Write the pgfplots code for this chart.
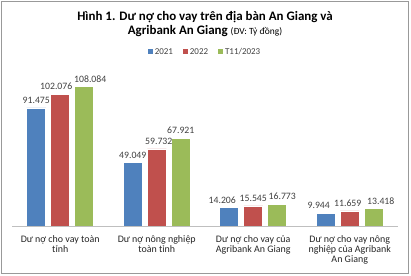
\documentclass[border=0pt]{standalone}
\usepackage{pgfplots}
\usepackage{pgfplotstable}
\pgfplotsset{compat=1.18}
\usepackage{fontspec}
\setmainfont{Carlito}
\definecolor{cblue}{HTML}{4F81BD}
\definecolor{cred}{HTML}{C0504D}
\definecolor{cgreen}{HTML}{9BBB59}
\definecolor{ctext}{HTML}{404040}
\pgfplotstableread{
x y lab dx
0 91.475 91.475 0
1 49.049 49.049 0
2 14.206 14.206 -7
3 9.944 9.944 -7
}\tblA
\pgfplotstableread{
x y lab dx
0 102.076 102.076 -4
1 59.732 59.732 2
2 15.545 15.545 0
3 11.659 11.659 -2
}\tblB
\pgfplotstableread{
x y lab dx
0 108.084 108.084 6
1 67.921 67.921 0
2 16.773 16.773 5
3 13.418 13.418 7
}\tblC
\begin{document}
\begin{tikzpicture}
\useasboundingbox (0bp,0bp) rectangle (411bp,276bp);
\draw[line width=1bp, color=black!40] (1.5bp,2.5bp) rectangle (408.5bp,274bp);
\node[font=\bfseries\fontsize{13}{14}\selectfont, anchor=base, text=black] at (205bp,255bp)
  {Hình 1. Dư nợ cho vay trên địa bàn An Giang và};
\node[font=\bfseries\fontsize{13}{14}\selectfont, anchor=base, text=black] at (205bp,241bp)
  {Agribank An Giang {\mdseries\fontsize{9.5}{11}\selectfont (ĐV: Tỷ đồng)}};
\begin{axis}[
  at={(12bp,50bp)}, anchor=south west,
  scale only axis, width=386bp, height=155bp,
  xmin=-0.5, xmax=3.5, ymin=0, ymax=120,
  ybar=5bp, bar width=19bp,
  axis x line=bottom, axis y line=none,
  axis line style={-, draw=black!25, line width=0.8bp},
  xtick=data, xtick style={draw=none}, ytick=\empty,
  xticklabels={{Dư nợ cho vay toàn\\tỉnh},{Dư nợ nông nghiệp\\toàn tỉnh},{Dư nợ cho vay của\\Agribank An Giang},{Dư nợ cho vay nông\\nghiệp của Agribank\\An Giang}},
  xticklabel style={font=\fontsize{10}{10}\selectfont, align=center, text=black!85, yshift=-4bp},
  point meta=explicit symbolic,
  visualization depends on={\thisrow{dx} \as \dx},
  nodes near coords,
  nodes near coords style={font=\fontsize{9.8}{10}\selectfont, text=ctext, anchor=south, inner sep=1bp, yshift=3bp, xshift=\dx bp},
  legend columns=3,
  legend style={at={(0.5,1.1226)}, anchor=center, draw=none, fill=none,
    font=\fontsize{9}{9}\selectfont, text=ctext,
    /tikz/every even column/.append style={column sep=8bp}},
  legend image code/.code={\fill[#1,draw=none] (0bp,-2.5bp) rectangle (5bp,2.5bp);},
  every axis plot/.append style={draw=white, line width=0.6bp},
]
\addplot[fill=cblue] table[x=x,y=y,meta=lab] {\tblA};
\addplot[fill=cred] table[x=x,y=y,meta=lab] {\tblB};
\addplot[fill=cgreen] table[x=x,y=y,meta=lab] {\tblC};
\legend{2021,2022,T11/2023}
\end{axis}
\end{tikzpicture}
\end{document}
